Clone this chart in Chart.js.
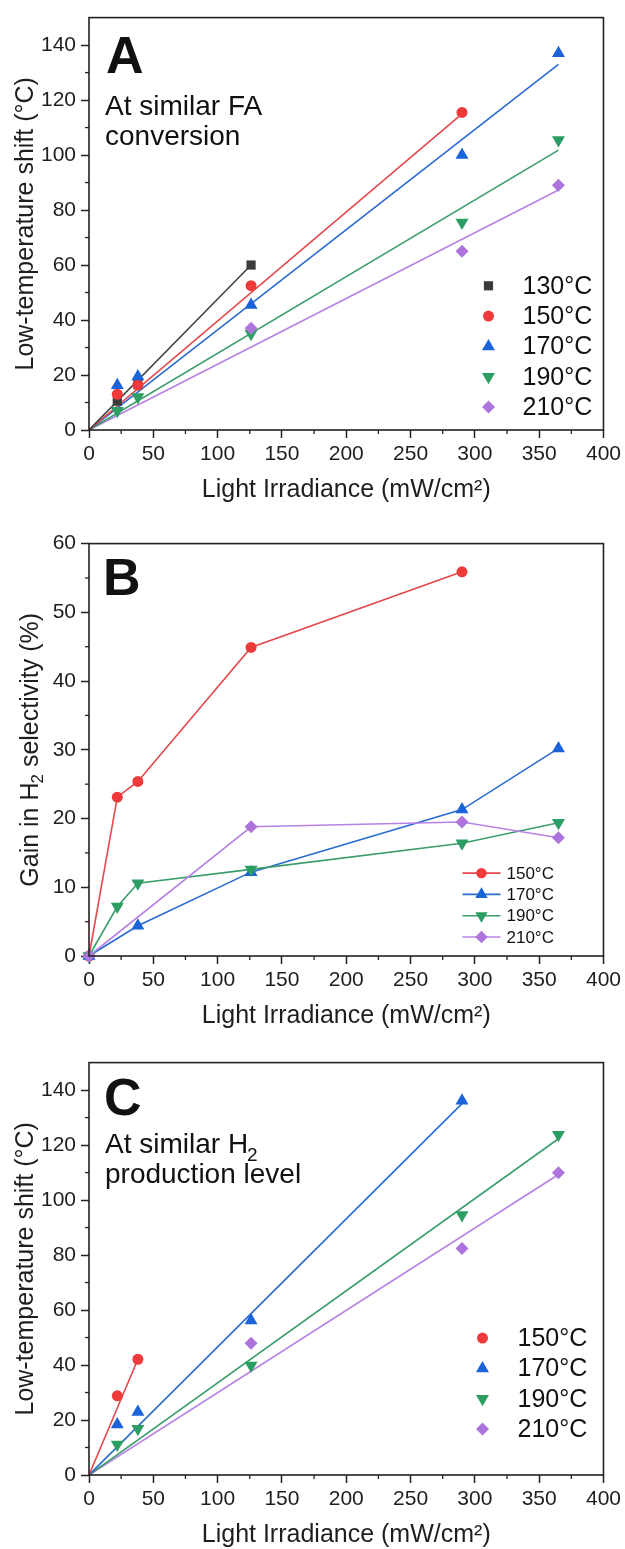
<!DOCTYPE html>
<html>
<head>
<meta charset="utf-8">
<script src="https://cdn.jsdelivr.net/npm/chart.js@4.4.1/dist/chart.umd.min.js"></script>
<style>
  body { margin: 0; background: #fff; }
  .panel { position: absolute; left: 0; width: 625px; height: 515px; }
</style>
</head>
<body>
<div class="panel" style="top:0px"><canvas id="chartA" width="625" height="515"></canvas></div>
<div class="panel" style="top:526px"><canvas id="chartB" width="625" height="515"></canvas></div>
<div class="panel" style="top:1045px"><canvas id="chartC" width="625" height="515"></canvas></div>
<script>
const FONT = "'Liberation Sans', Arial, sans-serif";

// axis ticks
const xTicks = [0, 50, 100, 150, 200, 250, 300, 350, 400];
const yTicksShift = [0, 20, 40, 60, 80, 100, 120, 140];
const yTicksGain = [0, 10, 20, 30, 40, 50, 60];

// A - low-temperature shift (°C) at similar FA conversion
const xA130 = [22, 38, 126];            const yA130 = [10.5, 16.5, 60];
const xA150 = [22, 38, 126, 290];       const yA150 = [13, 16.3, 52.5, 115.5];
const xA170 = [22, 38, 126, 290, 365];  const yA170 = [16.3, 19.5, 45.5, 100, 137];
const xA190 = [22, 38, 126, 290, 365];  const yA190 = [7, 12, 35, 75.5, 105.5];
const xA210 = [126, 290, 365];          const yA210 = [37, 65, 89];
// linear fits through the origin: end point of each line
const fitEndXA = [126, 290, 365, 365, 365];
const fitEndYA = [60, 115, 133, 101.8, 87.3];

// B - gain in H2 selectivity (%)
const xB150 = [0, 22, 38, 126, 290];          const yB150 = [0, 23.1, 25.4, 44.9, 55.9];
const xB170 = [0, 38, 126, 290, 365];         const yB170 = [0, 4.4, 12.2, 21.3, 30.2];
const xB190 = [0, 22, 38, 126, 290, 365];     const yB190 = [0, 7.2, 10.6, 12.6, 16.4, 19.4];
const xB210 = [0, 126, 290, 365];             const yB210 = [0, 18.8, 19.5, 17.2];

// C - low-temperature shift (°C) at similar H2 production level
const xC150 = [22, 38];                 const yC150 = [28.8, 42.1];
const xC170 = [22, 38, 126, 290];       const yC170 = [18.4, 22.9, 56.2, 136.1];
const xC190 = [22, 38, 126, 290, 365];  const yC190 = [11.1, 16.8, 39.8, 94.6, 123.8];
const xC210 = [126, 290, 365];          const yC210 = [47.9, 82.4, 109.9];
const fitEndXC = [38, 290, 365, 365];
const fitEndYC = [42.1, 135.1, 122.3, 109.3];

const series = {
  "130°C": { color: "#3b3b3b", line: "#454545", style: "rect", rot: 0, r: 6.5 },
  "150°C": { color: "#ef3a3c", line: "#e4484a", style: "circle", rot: 0, r: 5.5 },
  "170°C": { color: "#1b63d8", line: "#2a6bd0", style: "triangle", rot: 0, r: 7.5 },
  "190°C": { color: "#2c9e63", line: "#3c9d6c", style: "triangle", rot: 180, r: 7.5 },
  "210°C": { color: "#ad74de", line: "#b683e4", style: "rectRot", rot: 0, r: 6.5 }
};

const pts = (xs, ys) => xs.map((x, i) => ({ x: x, y: ys[i] }));

function markers(label, xs, ys, i, withLine) {
  const s = series[label];
  return {
    label: label,
    data: pts(xs, ys),
    showLine: !!withLine,
    borderColor: s.line,
    borderWidth: 1.6,
    pointStyle: s.style,
    pointRotation: s.rot,
    pointRadius: s.r,
    pointHoverRadius: s.r,
    pointBackgroundColor: s.color,
    pointBorderWidth: 0,
    order: 10 - i,
    clip: false
  };
}

function fitLine(label, xEnd, yEnd) {
  return {
    data: [{ x: 0, y: 0 }, { x: xEnd, y: yEnd }],
    showLine: true,
    borderColor: series[label].line,
    borderWidth: 1.6,
    pointRadius: 0,
    order: 20
  };
}

// text with an optional lowered "2"; draw=false only measures
function richText(ctx, parts, x, y, size, draw) {
  let cx = x;
  parts.forEach(p => {
    if (p.sub) {
      ctx.font = Math.round(size * 0.68) + 'px ' + FONT;
      if (draw) ctx.fillText(p.sub, cx - 1, y + size * 0.3);
      cx += ctx.measureText(p.sub).width - 1;
    } else {
      ctx.font = size + 'px ' + FONT;
      if (draw) ctx.fillText(p.t, cx, y);
      cx += ctx.measureText(p.t).width;
    }
  });
  return cx - x;
}

// box round the plot and minor ticks halfway between the major ones
const frameAndMinor = {
  id: 'frameAndMinor',
  afterDraw(chart) {
    const { ctx, chartArea: a, scales } = chart;
    ctx.save();
    ctx.strokeStyle = '#222';
    ctx.lineWidth = 1.6;
    ctx.strokeRect(a.left, a.top, a.right - a.left, a.bottom - a.top);
    ctx.lineWidth = 1.3;
    const xs = scales.x.ticks.map(t => t.value);
    for (let i = 0; i < xs.length - 1; i++) {
      const px = scales.x.getPixelForValue((xs[i] + xs[i + 1]) / 2);
      ctx.beginPath(); ctx.moveTo(px, a.bottom); ctx.lineTo(px, a.bottom + 4); ctx.stroke();
    }
    const ys = scales.y.ticks.map(t => t.value);
    for (let i = 0; i < ys.length - 1; i++) {
      const py = scales.y.getPixelForValue((ys[i] + ys[i + 1]) / 2);
      ctx.beginPath(); ctx.moveTo(a.left, py); ctx.lineTo(a.left - 4, py); ctx.stroke();
    }
    ctx.restore();
  }
};

// panel letter, the note under it and a y title with subscript
const panelNotes = {
  id: 'panelNotes',
  afterDraw(chart, args, o) {
    if (!o.letter) return;
    const { ctx, chartArea: a } = chart;
    ctx.save();
    ctx.fillStyle = '#111';
    ctx.textBaseline = 'alphabetic';
    ctx.font = 'bold 52px ' + FONT;
    ctx.fillText(o.letter, a.left + o.letterX, a.top + o.letterBase);
    (o.lines || []).forEach((ln, i) => {
      richText(ctx, ln, a.left + 16, a.top + o.lineBase + i * 30, 28, true);
    });
    if (o.yTitle) {
      ctx.fillStyle = '#1e1e1e';
      ctx.translate(o.yTitleX, (a.top + a.bottom) / 2);
      ctx.rotate(-Math.PI / 2);
      ctx.textBaseline = 'middle';
      const w = richText(ctx, o.yTitle, 0, 0, 25, false);
      richText(ctx, o.yTitle, -w / 2, 0, 25, true);
    }
    ctx.restore();
  }
};

// legend drawn inside the plot, lower right
const markerLegend = {
  id: 'markerLegend',
  afterDraw(chart, args, o) {
    if (!o.rowGap) return;
    const { ctx, chartArea: a } = chart;
    const items = chart.data.datasets.filter(d => d.label);
    ctx.save();
    items.forEach((d, i) => {
      const y = a.bottom - o.bottomGap - (items.length - 1 - i) * o.rowGap;
      const x = a.right - o.markerFromRight;
      if (o.lineLen) {
        ctx.strokeStyle = d.borderColor;
        ctx.lineWidth = 1.6;
        ctx.beginPath(); ctx.moveTo(x - o.lineLen / 2, y); ctx.lineTo(x + o.lineLen / 2, y); ctx.stroke();
      }
      ctx.fillStyle = d.pointBackgroundColor;
      Chart.helpers.drawPoint(ctx, {
        pointStyle: d.pointStyle, rotation: d.pointRotation, radius: d.pointRadius * (o.markerScale || 1), borderWidth: 0
      }, x, y);
      ctx.fillStyle = '#111';
      ctx.font = o.fontSize + 'px ' + FONT;
      ctx.textBaseline = 'middle';
      ctx.fillText(d.label, a.right - o.textFromRight, y + 1);
    });
    ctx.restore();
  }
};

function makeChart(id, datasets, yMax, yTicks, yTitle, yTitlePad, notes, legend) {
  return new Chart(document.getElementById(id), {
    type: 'scatter',
    data: { datasets: datasets },
    plugins: [frameAndMinor, panelNotes, markerLegend],
    options: {
      responsive: false,
      animation: false,
      events: [],
      layout: { padding: { top: 15, right: 20, bottom: 5, left: 0 } },
      plugins: {
        legend: { display: false },
        tooltip: { enabled: false },
        panelNotes: notes,
        markerLegend: legend
      },
      scales: {
        x: {
          type: 'linear', min: 0, max: 400,
          afterBuildTicks: s => { s.ticks = xTicks.map(v => ({ value: v })); },
          afterFit: s => { s.height = 80; },
          border: { display: false },
          grid: { drawOnChartArea: false, tickLength: 8, tickWidth: 1.5, tickColor: '#222' },
          ticks: { font: { size: 21, family: FONT }, color: '#1e1e1e', padding: 4, maxRotation: 0, autoSkip: false },
          title: { display: true, text: 'Light Irradiance (mW/cm²)', font: { size: 25, family: FONT }, color: '#1e1e1e', padding: { top: 0, bottom: 5 } }
        },
        y: {
          type: 'linear', min: 0, max: yMax,
          afterBuildTicks: s => { s.ticks = yTicks.map(v => ({ value: v })); },
          afterFit: s => { s.width = 89; },
          border: { display: false },
          grid: { drawOnChartArea: false, tickLength: 8, tickWidth: 1.5, tickColor: '#222' },
          ticks: { font: { size: 21, family: FONT }, color: '#1e1e1e', padding: 5, autoSkip: false },
          title: { display: !!yTitle, text: yTitle, font: { size: 25, family: FONT }, color: '#1e1e1e', padding: { top: yTitlePad, bottom: 0 } }
        }
      }
    }
  });
}

const labelsA = Object.keys(series);
makeChart('chartA', [
  markers("130°C", xA130, yA130, 0),
  markers("150°C", xA150, yA150, 1),
  markers("170°C", xA170, yA170, 2),
  markers("190°C", xA190, yA190, 3),
  markers("210°C", xA210, yA210, 4),
  ...labelsA.map((l, i) => fitLine(l, fitEndXA[i], fitEndYA[i]))
], 150, yTicksShift, 'Low-temperature shift (°C)', 11,
  { letter: 'A', letterX: 17, letterBase: 55, lineBase: 97, lines: [[{ t: 'At similar FA' }], [{ t: 'conversion' }]] },
  { rowGap: 30.3, bottomGap: 23, markerFromRight: 115, textFromRight: 81, fontSize: 25 });

makeChart('chartB', [
  markers("150°C", xB150, yB150, 1, true),
  markers("170°C", xB170, yB170, 2, true),
  markers("190°C", xB190, yB190, 3, true),
  markers("210°C", xB210, yB210, 4, true)
], 60, yTicksGain, '', 0,
  { letter: 'B', letterX: 14, letterBase: 51, yTitleX: 31,
    yTitle: [{ t: 'Gain in H' }, { sub: '2' }, { t: ' selectivity (%)' }] },
  { rowGap: 21.3, bottomGap: 19, markerFromRight: 122, textFromRight: 97, fontSize: 17, lineLen: 38, markerScale: 0.95 });

const labelsC = ["150°C", "170°C", "190°C", "210°C"];
makeChart('chartC', [
  markers("150°C", xC150, yC150, 1),
  markers("170°C", xC170, yC170, 2),
  markers("190°C", xC190, yC190, 3),
  markers("210°C", xC210, yC210, 4),
  ...labelsC.map((l, i) => fitLine(l, fitEndXC[i], fitEndYC[i]))
], 150, yTicksShift, 'Low-temperature shift (°C)', 11,
  { letter: 'C', letterX: 15, letterBase: 52, lineBase: 90,
    lines: [[{ t: 'At similar H' }, { sub: '2' }], [{ t: 'production level' }]] },
  { rowGap: 30.3, bottomGap: 46, markerFromRight: 121, textFromRight: 86, fontSize: 25 });
</script>
</body>
</html>
